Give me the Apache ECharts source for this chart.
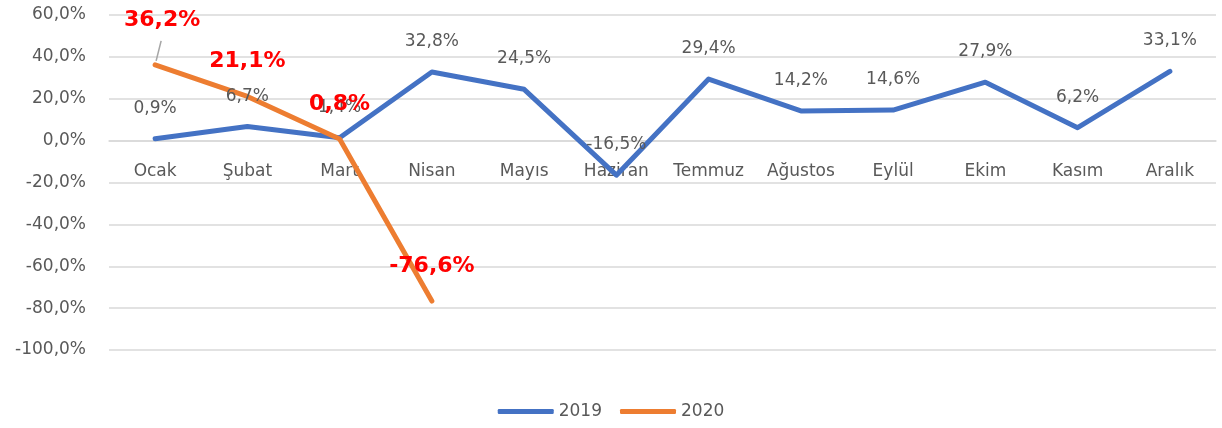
<!DOCTYPE html>
<html>
<head>
<meta charset="utf-8">
<script src="https://cdn.jsdelivr.net/npm/echarts@6/dist/echarts.min.js"></script>
<style>
  html, body { margin: 0; padding: 0; background: #fff; }
  #chart { width: 1222px; height: 428px; }
</style>
</head>
<body>
<div id="chart"></div>
<script>
const months = ["Ocak", "Şubat", "Mart", "Nisan", "Mayıs", "Haziran", "Temmuz", "Ağustos", "Eylül", "Ekim", "Kasım", "Aralık"];
const values2019 = [0.9, 6.7, 1.4, 32.8, 24.5, -16.5, 29.4, 14.2, 14.6, 27.9, 6.2, 33.1];
const values2020 = [36.2, 21.1, 0.8, -76.6];
const seriesNames = ["2019", "2020"];

const fmt = v => v.toFixed(1).replace(".", ",") + "%";
const font = "DejaVu Sans";

const gridTop = 15, gridBottom = 78, chartH = 428;
const yMin = -100, yMax = 60;
// push the category axis up to the zero line
const plotH = chartH - gridTop - gridBottom;
const zeroOffset = -plotH * (0 - yMin) / (yMax - yMin);

const chart = echarts.init(document.getElementById("chart"));
chart.setOption({
  animation: false,
  grid: { left: 109, right: 6, top: gridTop, bottom: gridBottom },
  legend: {
    bottom: 3,
    left: "center",
    itemWidth: 56,
    itemHeight: 5,
    itemGap: 18,
    icon: "roundRect",
    textStyle: { color: "#595959", fontSize: 17, fontFamily: font },
    data: seriesNames
  },
  xAxis: {
    type: "category",
    data: months,
    offset: zeroOffset,
    axisTick: { show: false },
    axisLine: { onZero: false, lineStyle: { color: "#d9d9d9", width: 1.5 } },
    axisLabel: { color: "#595959", fontSize: 17, fontFamily: font, margin: 22 }
  },
  yAxis: {
    type: "value",
    min: yMin,
    max: yMax,
    interval: 20,
    axisLabel: {
      color: "#595959", fontSize: 17, fontFamily: font, margin: 23,
      formatter: v => fmt(v)
    },
    splitLine: { lineStyle: { color: "#d9d9d9", width: 1.5 } }
  },
  series: [
    {
      name: seriesNames[0],
      type: "line",
      data: values2019,
      symbol: "circle",
      symbolSize: 0,
      itemStyle: { color: "#4472C4" },
      lineStyle: { color: "#4472C4", width: 5, cap: "round", join: "round" },
      label: {
        show: true,
        position: "top",
        distance: 22,
        color: "#595959",
        fontSize: 17,
        fontFamily: font,
        formatter: p => fmt(p.value)
      }
    },
    {
      name: seriesNames[1],
      type: "line",
      data: values2020,
      symbol: "circle",
      symbolSize: 0,
      itemStyle: { color: "#ED7D31" },
      lineStyle: { color: "#ED7D31", width: 5, cap: "round", join: "round" },
      label: {
        show: true,
        position: "top",
        distance: 24,
        color: "#FF0000",
        fontSize: 22,
        fontWeight: "bold",
        fontFamily: font,
        formatter: p => fmt(p.value)
      },
      labelLayout: p => (p.dataIndex === 0 ? { dx: 7, dy: -10 } : {})
    }
  ]
});

// leader line for the moved Ocak 2020 label
const p0 = chart.convertToPixel({ seriesIndex: 1 }, [0, values2020[0]]);
chart.setOption({
  graphic: [{
    type: "line",
    shape: { x1: p0[0] + 1, y1: p0[1] - 4, x2: p0[0] + 6, y2: p0[1] - 24 },
    style: { stroke: "#a6a6a6", lineWidth: 1.5 },
    z: 1
  }]
});
</script>
</body>
</html>
